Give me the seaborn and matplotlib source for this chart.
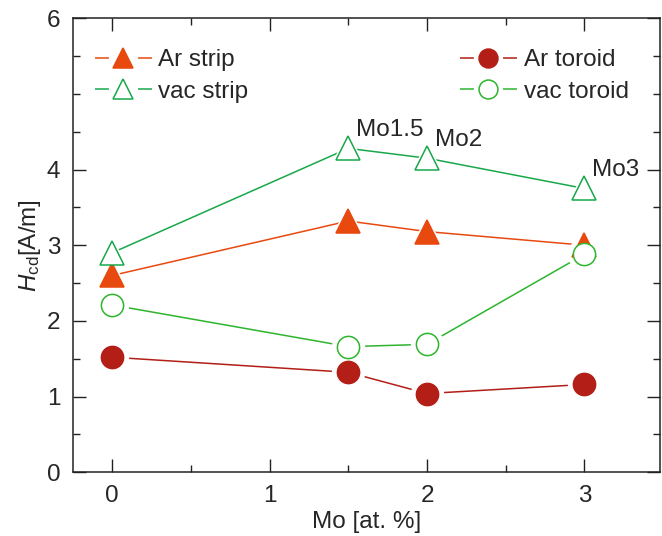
import matplotlib
matplotlib.use("Agg")
import matplotlib.pyplot as plt
import seaborn as sns
import pandas as pd
from matplotlib.lines import Line2D
from matplotlib.ticker import MultipleLocator, FixedLocator

mo = [0, 1.5, 2, 3]
ar_strip = [2.60, 3.32, 3.18, 3.00]
vac_strip = [2.90, 4.28, 4.15, 3.75]
ar_toroid = [1.52, 1.32, 1.04, 1.16]
vac_toroid = [2.21, 1.66, 1.69, 2.88]
labels = ["Mo1.5", "Mo2", "Mo3"]

sns.set_style("ticks")
plt.rcParams["font.family"] = ["Liberation Sans", "DejaVu Sans"]
plt.rcParams["mathtext.fontset"] = "custom"
plt.rcParams["mathtext.rm"] = "Liberation Sans"
plt.rcParams["mathtext.it"] = "Liberation Sans:italic"

FS = 17.5
LW = 1.1

c_orange = "#E8490F"
c_red = "#B31E17"
c_green_s = "#18A84A"
c_green_t = "#2DB52D"

series = [
    ("Ar strip", ar_strip, c_orange, "^", 17, c_orange),
    ("vac strip", vac_strip, c_green_s, "^", 17, "white"),
    ("Ar toroid", ar_toroid, c_red, "o", 16, c_red),
    ("vac toroid", vac_toroid, c_green_t, "o", 16, "white"),
]

fig = plt.figure(figsize=(6.62, 5.36), dpi=100)
ax = fig.add_axes([0.110, 0.119, 0.887, 0.847])

for name, vals, col, mk, ms, fc in series:
    df = pd.DataFrame({"mo": mo, "h": vals})
    # line, then white halo so the line stops short of the marker
    sns.lineplot(data=df, x="mo", y="h", color=col, lw=LW, ax=ax, zorder=1)
    sns.lineplot(data=df, x="mo", y="h", ax=ax, linestyle="none", marker=mk,
                 markersize=ms + 8, markerfacecolor="white",
                 markeredgecolor="white", markeredgewidth=0, zorder=2)

for name, vals, col, mk, ms, fc in series:
    df = pd.DataFrame({"mo": mo, "h": vals})
    sns.lineplot(data=df, x="mo", y="h", ax=ax, linestyle="none", marker=mk,
                 markersize=ms, markerfacecolor=fc, markeredgecolor=col,
                 markeredgewidth=LW, zorder=3)

for lab, x, y in zip(labels, mo[1:], vac_strip[1:]):
    ax.text(x + 0.05, y + 0.10, lab, fontsize=FS, ha="left", va="bottom")

ax.set_xlim(-0.25, 3.48)
ax.set_ylim(0, 6)
ax.xaxis.set_major_locator(MultipleLocator(1))
ax.xaxis.set_minor_locator(MultipleLocator(0.5))
ax.yaxis.set_major_locator(FixedLocator([0, 1, 2, 3, 4, 6]))
ax.yaxis.set_minor_locator(MultipleLocator(0.5))
ax.tick_params(which="both", direction="in", top=True, right=True,
               labelsize=FS, width=1, color="#222222")
ax.tick_params(which="major", length=9.5, pad=9)
ax.tick_params(which="minor", length=5)
for s in ax.spines.values():
    s.set_linewidth(LW)
    s.set_color("#222222")

ax.set_xlabel("Mo [at. %]", fontsize=FS, labelpad=3)
ax.set_ylabel(r"$H_{\mathrm{cd}}$[A/m]", fontsize=FS, labelpad=3)


def handle(col, mk, ms, fc):
    # line segment - gap - line segment, marker in the gap
    ln = Line2D([], [], color=col, lw=LW,
                dashes=(10 / LW, 21 / LW, 10 / LW, 100))
    mark = Line2D([], [], linestyle="none", marker=mk, markersize=ms * 0.85,
                  markerfacecolor=fc, markeredgecolor=col, markeredgewidth=LW)
    return (ln, mark)


h1 = [handle(*s[2:]) for s in series[:2]]
h2 = [handle(*s[2:]) for s in series[2:]]
leg1 = ax.legend(h1, [s[0] for s in series[:2]], loc="upper left",
                 bbox_to_anchor=(0.0, 0.98), frameon=False, fontsize=FS,
                 handlelength=2.35, handletextpad=0.25, labelspacing=0.4)
ax.add_artist(leg1)
ax.legend(h2, [s[0] for s in series[2:]], loc="upper right",
          bbox_to_anchor=(0.985, 0.98), frameon=False, fontsize=FS,
          handlelength=2.35, handletextpad=0.3, labelspacing=0.4)

fig.savefig("out.png", dpi=100)
